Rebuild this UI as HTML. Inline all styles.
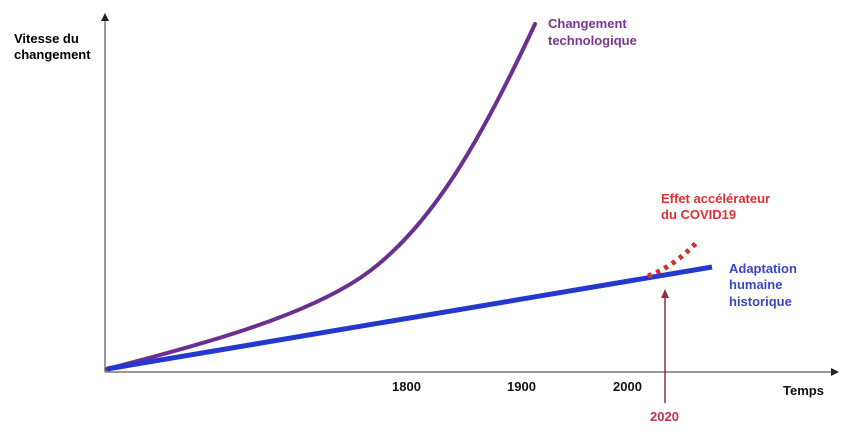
<!DOCTYPE html>
<html><head><style>
body{margin:0;background:#fff;width:850px;height:431px;overflow:hidden}
text{font-family:"Liberation Sans",Arial,sans-serif;font-weight:bold;font-size:13px}
</style></head><body>
<svg width="850" height="431" viewBox="0 0 850 431">
<line x1="105" y1="372" x2="105" y2="20" stroke="#777" stroke-width="1.5"/>
<polygon points="105,13 101,21 109,21" fill="#222"/>
<line x1="105" y1="372" x2="832" y2="372" stroke="#777" stroke-width="1.5"/>
<polygon points="839,372 831,368 831,376" fill="#222"/>
<text x="14" y="43">Vitesse du</text>
<text x="14" y="59">changement</text>
<path d="M107,369 C200,345 300,318 360,278 C430,231 482,138 535,24" fill="none" stroke="#6a2f8f" stroke-width="4" stroke-linecap="round"/>
<line x1="107" y1="369" x2="712" y2="267" stroke="#2438d0" stroke-width="5"/>
<path d="M648,276 C665,270 682,258 697,242" fill="none" stroke="#d03030" stroke-width="5" stroke-dasharray="4,5"/>
<line x1="665" y1="403" x2="665" y2="296" stroke="#8b3040" stroke-width="1.5"/>
<polygon points="665,289 661,298 669,298" fill="#8b3040"/>
<text x="548" y="28" fill="#7b3596">Changement</text>
<text x="548" y="45" fill="#7b3596">technologique</text>
<text x="661" y="203" fill="#e03030">Effet accélérateur</text>
<text x="661" y="219" fill="#e03030">du COVID19</text>
<text x="729" y="273" fill="#3a46c8">Adaptation</text>
<text x="729" y="289" fill="#3a46c8">humaine</text>
<text x="729" y="306" fill="#3a46c8">historique</text>
<text x="392" y="391" fill="#111">1800</text>
<text x="507" y="391" fill="#111">1900</text>
<text x="613" y="391" fill="#111">2000</text>
<text x="783" y="395" fill="#111">Temps</text>
<text x="650" y="421" fill="#c83040">2020</text>
</svg>
</body></html>
